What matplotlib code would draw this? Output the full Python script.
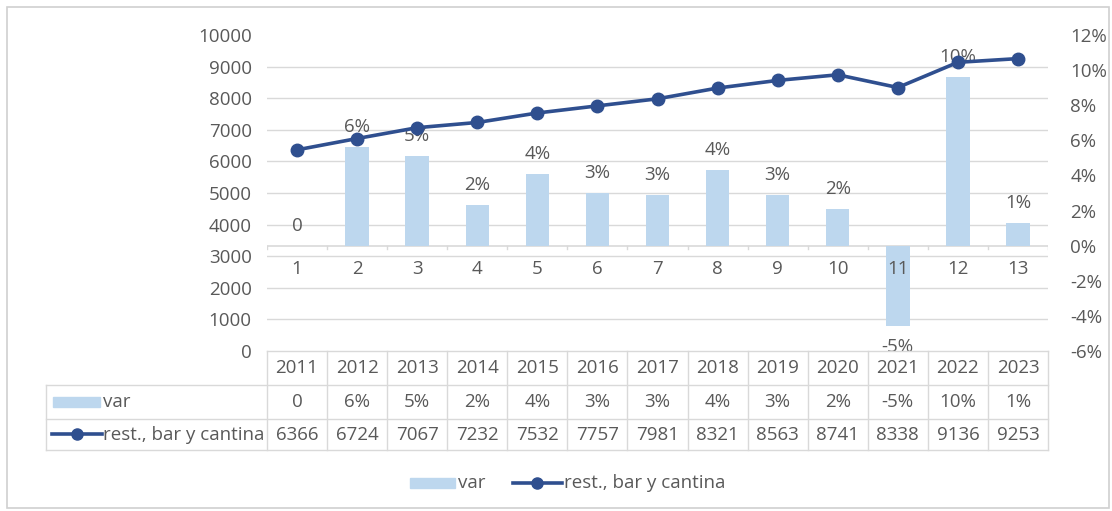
import numpy as np
import matplotlib.pyplot as plt
from matplotlib.patches import Rectangle

plt.rcParams['font.family'] = ['Open Sans', 'DejaVu Sans']

years = [2011, 2012, 2013, 2014, 2015, 2016, 2017, 2018, 2019, 2020, 2021, 2022, 2023]
cats = [str(i) for i in range(1, 14)]
var = [0.0, 0.056, 0.051, 0.023, 0.041, 0.030, 0.029, 0.043, 0.029, 0.021, -0.046, 0.096, 0.013]
var_labels = ['0', '6%', '5%', '2%', '4%', '3%', '3%', '4%', '3%', '2%', '-5%', '10%', '1%']
rest = [6366, 6724, 7067, 7232, 7532, 7757, 7981, 8321, 8563, 8741, 8338, 9136, 9253]

W, H = 1112, 511
bar_c = '#BDD7EE'
line_c = '#2F4F8F'
txt_c = '#595959'
grid_c = '#D9D9D9'
fs = 13.5

fig = plt.figure(figsize=(W / 100, H / 100), dpi=100)

def fx(px):
    return px / W

def fy(py):
    return 1 - py / H

# outer border
fig.add_artist(Rectangle((fx(7), fy(508)), fx(1102), 501 / H, transform=fig.transFigure,
                         fill=False, ec='#D0D0D0', lw=1.2))

L, R, T, B = 267, 1048, 35, 351
ax = fig.add_axes([fx(L), fy(B), fx(R - L), (B - T) / H])
ax2 = ax.twinx()
ax.set_zorder(3)
ax.patch.set_visible(False)

x = np.arange(len(cats))

# bars on secondary axis
ax2.bar(x, var, width=0.39, color=bar_c, zorder=2)
ax2.set_ylim(-0.06, 0.12)
pct = np.arange(-0.06, 0.121, 0.02)
ax2.set_yticks(pct)
ax2.set_yticklabels([f'{int(round(v * 100))}%' for v in pct])
ax2.axhline(0, color=grid_c, lw=1.2, zorder=1)
for i, (v, lab) in enumerate(zip(var, var_labels)):
    off = 11 if v >= 0 else -30
    ax2.annotate(lab, (i, v), xytext=(0, off), textcoords='offset pixels',
                 ha='center', va='bottom', fontsize=fs, color=txt_c, zorder=3)
    ax2.annotate(cats[i], (i, 0), xytext=(0, -32), textcoords='offset pixels',
                 ha='center', va='bottom', fontsize=fs, color=txt_c)
for b in np.arange(-0.5, 13, 1):
    ax2.plot([b, b], [-0.002, 0.0], color=grid_c, lw=1, zorder=1)

# line on primary axis
ax.plot(x, rest, color=line_c, lw=2.6, marker='o', ms=9, zorder=4)
ax.set_ylim(0, 10000)
ax.set_yticks(range(0, 10001, 1000))
ax.set_xlim(-0.5, 12.5)
ax2.set_xlim(-0.5, 12.5)
ax2.set_yticks(np.arange(0, 10001, 1000) / 10000 * 0.18 - 0.06, minor=True)
ax2.yaxis.grid(True, which='minor', color=grid_c, lw=1)
ax2.set_axisbelow(True)

for a in (ax, ax2):
    for s in a.spines.values():
        s.set_visible(False)
    a.tick_params(length=0, labelsize=fs, labelcolor=txt_c, which='both')
    a.set_xticks([])
ax.tick_params(axis='y', pad=11)
ax2.tick_params(axis='y', pad=16)

# data table
tab = fig.add_axes([0, 0, 1, 1])
tab.set_xlim(0, W)
tab.set_ylim(H, 0)
tab.axis('off')
col_w = (R - L) / len(years)
rows = [351, 385, 419, 450]
for ry in rows:
    x0 = L if ry == rows[0] else 46
    tab.plot([x0, R], [ry, ry], color=grid_c, lw=1)
tab.plot([46, 46], [rows[1], rows[3]], color=grid_c, lw=1)
for j in range(len(years) + 1):
    cx = L + j * col_w
    tab.plot([cx, cx], [rows[0], rows[3]], color=grid_c, lw=1)
for j, yr in enumerate(years):
    cx = L + (j + 0.5) * col_w
    tab.text(cx, (rows[0] + rows[1]) / 2, str(yr), ha='center', va='center', fontsize=fs, color=txt_c)
    tab.text(cx, (rows[1] + rows[2]) / 2, var_labels[j], ha='center', va='center', fontsize=fs, color=txt_c)
    tab.text(cx, (rows[2] + rows[3]) / 2, str(rest[j]), ha='center', va='center', fontsize=fs, color=txt_c)

ym = (rows[1] + rows[2]) / 2
tab.add_patch(Rectangle((53, ym - 5), 47, 10, color=bar_c))
tab.text(103, ym, 'var', ha='left', va='center', fontsize=fs, color=txt_c)
ym = (rows[2] + rows[3]) / 2
tab.plot([52, 102], [ym, ym], color=line_c, lw=2.6)
tab.plot([77], [ym], 'o', color=line_c, ms=8)
tab.text(103, ym, 'rest., bar y cantina', ha='left', va='center', fontsize=fs, color=txt_c)

# legend
ly = 483
tab.add_patch(Rectangle((410, ly - 5), 45, 10, color=bar_c))
tab.text(458, ly, 'var', ha='left', va='center', fontsize=fs, color=txt_c)
tab.plot([513, 562], [ly, ly], color=line_c, lw=2.6)
tab.plot([537], [ly], 'o', color=line_c, ms=8)
tab.text(564, ly, 'rest., bar y cantina', ha='left', va='center', fontsize=fs, color=txt_c)

fig.savefig('out.png', dpi=100)
